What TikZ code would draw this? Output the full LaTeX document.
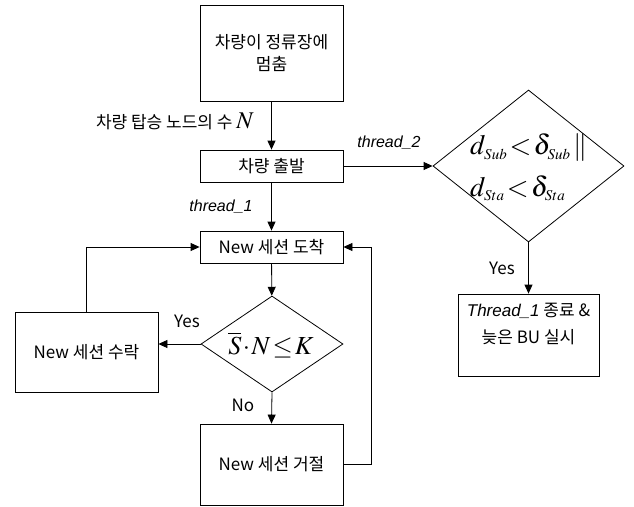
\documentclass[tikz,border=0pt]{standalone}
\usepackage{mathptmx}
\usepackage[no-math]{fontspec}
\setmainfont{Noto Sans CJK KR}
\newfontfamily\lsans{Liberation Sans}
\DeclareMathSizes{24}{24}{14}{10}
\DeclareMathSizes{26}{26}{15}{11}
\DeclareMathSizes{28}{28}{15}{11}
\usetikzlibrary{shapes.geometric,arrows.meta}
\tikzset{
  box/.style={draw, line width=0.8pt, inner sep=0pt, align=center, font=\fontsize{17}{22}\selectfont},
  dia/.style={draw, diamond, line width=0.8pt, inner sep=0pt},
  lbl/.style={inner sep=0pt, font=\fontsize{17}{22}\selectfont},
  thr/.style={inner sep=0pt, font=\fontsize{16}{18}\selectfont\lsans\itshape},
  mth/.style={inner sep=0pt, font=\fontsize{28}{30}\selectfont},
  arr/.style={line width=0.8pt, -{Triangle[length=9pt,width=8pt]}},
  ln/.style={line width=0.8pt}
}
\begin{document}
\begin{tikzpicture}[x=1pt,y=-1pt]
\useasboundingbox (0,0) rectangle (634,506);
\node[box, minimum width=143pt, minimum height=96pt] (stop) at (271.5,53) {차량이 정류장에\\멈춤};
\node[box, minimum width=143pt, minimum height=32pt] (depart) at (271.5,166) {차량 출발};
\node[box, minimum width=143pt, minimum height=32pt] (arrive) at (271.5,247) {New 세션 도착};
\node[dia, minimum width=142pt, minimum height=96pt] (d1) at (272,344) {};
\node[inner sep=0pt, font=\fontsize{26}{30}\selectfont] (d1t) at (271,345) {$\medmuskip=1mu\thickmuskip=1.5mu\overline{S}\cdot N\le K$};
\node[box, minimum width=143pt, minimum height=80pt] (accept) at (86.5,352) {New 세션 수락};
\node[box, minimum width=143pt, minimum height=81pt] (reject) at (271.5,464.5) {New 세션 거절};
\node[dia, minimum width=191pt, minimum height=152pt] (d2) at (528.5,166) {};
\node[mth, anchor=west] (d2a) at (470,148) {$\thickmuskip=1.5mu d_{Sub}<\delta_{Sub}\;\|$};
\node[mth, anchor=west] (d2b) at (470,188) {$\thickmuskip=1.5mu d_{Sta}<\delta_{Sta}$};
\node[box, minimum width=141pt, minimum height=82pt] (term) at (528.5,335) {};
\node[lbl, align=center, font=\fontsize{17}{27}\selectfont] (termt) at (528.5,324) {{\lsans\itshape Thread\_1} 종료 \&\\늦은 BU 실시};
\node[lbl, anchor=east] (nlab) at (254,121) {차량 탑승 노드의 수 {\fontsize{24}{24}\selectfont$N$}};
\node[thr] (t1) at (221,207) {thread\_1};
\node[thr] (t2) at (389,143) {thread\_2};
\node[lbl] (yes2) at (502,268) {Yes};
\node[lbl] (yes1) at (187,321) {Yes};
\node[lbl] (no1) at (243,405) {No};
\draw[arr] (stop) -- (depart);
\draw[arr] (depart) -- (arrive);
\draw[arr] (depart.east) -- (d2.west);
\draw[arr] (d2.south) -- (term.north);
\draw[arr] (arrive) -- (d1);
\draw[arr] (d1.west) -- (d1.west -| accept.east);
\draw[arr] (d1.south) -- (reject.north);
\draw[arr] (accept.north) |- (arrive.west);
\draw[arr] (reject.east) -- ++(28,0) |- (arrive.east);
\end{tikzpicture}
\end{document}
